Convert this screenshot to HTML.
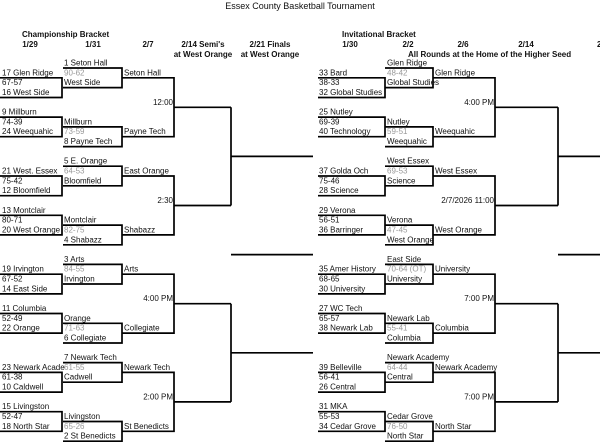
<!DOCTYPE html>
<html><head><meta charset="utf-8"><style>
html,body{margin:0;padding:0;background:#fff;width:600px;height:442px;overflow:hidden}
svg{display:block}
text{font-family:"Liberation Sans",sans-serif;font-size:8px;fill:#111}
.b{font-weight:bold}
.g{fill:#999}
.e{text-anchor:end}
.m{text-anchor:middle}
path{fill:none;stroke:#000;stroke-width:1.7}
</style></head><body>
<svg width="600" height="442" viewBox="0 0 600 442">
<text x="300" y="9" class="m" style="font-size:9px">Essex County Basketball Tournament</text>
<text x="22" y="37" class="b">Championship Bracket</text>
<text x="30" y="47" class="b m">1/29</text>
<text x="93" y="47" class="b m">1/31</text>
<text x="148" y="47" class="b m">2/7</text>
<text x="203" y="47" class="b m">2/14 Semi's</text>
<text x="270" y="47" class="b m">2/21 Finals</text>
<text x="203" y="57" class="b m">at West Orange</text>
<text x="270" y="57" class="b m">at West Orange</text>
<text x="342" y="37" class="b">Invitational Bracket</text>
<text x="350" y="47" class="b m">1/30</text>
<text x="408" y="47" class="b m">2/2</text>
<text x="463" y="47" class="b m">2/6</text>
<text x="526" y="47" class="b m">2/14</text>
<text x="597" y="47" class="b">2/21</text>
<text x="408" y="57" class="b">All Rounds at the Home of the Higher Seed</text>

<path d="M231 107.3V205.5M231 303.7V401.9M231 156.4H313M231 254.6H313M231 352.8H313"/>
<path d="M558 107.3V205.5M558 303.7V401.9M558 156.4H600M558 254.6H600M558 352.8H600"/>

<defs>
<path id="L" d="M0 77.8H62V97.5H0M63 68H122V87.6H63M122 77.8H174V136.7H122M0 117.1H62V136.7H0M63 126.9H122V146.6H63M174 107.3H231"/>
<path id="R" d="M318 77.8H385V97.5H318M385 68H433V87.6H385M433 77.8H495V136.7H433M318 117.1H385V136.7H318M385 126.9H433V146.6H385M495 107.3H558"/>
</defs>

<g>
<use href="#L"/><use href="#R"/>
<text x="64" y="65.5">1 Seton Hall</text>
<text x="2" y="75.3">17 Glen Ridge</text><text x="64" y="75.3" class="g">90-62</text><text x="124" y="75.3">Seton Hall</text>
<text x="2" y="85.1">67-57</text><text x="64" y="85.1">West Side</text>
<text x="2" y="95">16 West Side</text>
<text x="173" y="104.8" class="e">12:00</text>
<text x="2" y="114.6">9 Millburn</text>
<text x="2" y="124.4">74-39</text><text x="64" y="124.4">Millburn</text>
<text x="2" y="134.2">24 Weequahic</text><text x="64" y="134.2" class="g">73-59</text><text x="124" y="134.2">Payne Tech</text>
<text x="64" y="144.1">8 Payne Tech</text>
<text x="387" y="65.5">Glen Ridge</text>
<text x="319" y="75.3">33 Bard</text><text x="387" y="75.3" class="g">48-42</text><text x="435" y="75.3">Glen Ridge</text>
<text x="319" y="85.1">38-33</text><text x="387" y="85.1">Global Studies</text>
<text x="319" y="95">32 Global Studies</text>
<text x="494" y="104.8" class="e">4:00 PM</text>
<text x="319" y="114.6">25 Nutley</text>
<text x="319" y="124.4">69-39</text><text x="387" y="124.4">Nutley</text>
<text x="319" y="134.2">40 Technology</text><text x="387" y="134.2" class="g">59-51</text><text x="435" y="134.2">Weequahic</text>
<text x="387" y="144.1">Weequahic</text>
</g>

<g transform="translate(0,98.2)">
<use href="#L"/><use href="#R"/>
<text x="64" y="65.5">5 E. Orange</text>
<text x="2" y="75.3">21 West. Essex</text><text x="64" y="75.3" class="g">64-53</text><text x="124" y="75.3">East Orange</text>
<text x="2" y="85.1">75-42</text><text x="64" y="85.1">Bloomfield</text>
<text x="2" y="95">12 Bloomfield</text>
<text x="173" y="104.8" class="e">2:30</text>
<text x="2" y="114.6">13 Montclair</text>
<text x="2" y="124.4">80-71</text><text x="64" y="124.4">Montclair</text>
<text x="2" y="134.2">20 West Orange</text><text x="64" y="134.2" class="g">82-75</text><text x="124" y="134.2">Shabazz</text>
<text x="64" y="144.1">4 Shabazz</text>
<text x="387" y="65.5">West Essex</text>
<text x="319" y="75.3">37 Golda Och</text><text x="387" y="75.3" class="g">69-53</text><text x="435" y="75.3">West Essex</text>
<text x="319" y="85.1">75-46</text><text x="387" y="85.1">Science</text>
<text x="319" y="95">28 Science</text>
<text x="494" y="104.8" class="e">2/7/2026 11:00</text>
<text x="319" y="114.6">29 Verona</text>
<text x="319" y="124.4">56-51</text><text x="387" y="124.4">Verona</text>
<text x="319" y="134.2">36 Barringer</text><text x="387" y="134.2" class="g">47-45</text><text x="435" y="134.2">West Orange</text>
<text x="387" y="144.1">West Orange</text>
</g>

<g transform="translate(0,196.4)">
<use href="#L"/><use href="#R"/>
<text x="64" y="65.5">3 Arts</text>
<text x="2" y="75.3">19 Irvington</text><text x="64" y="75.3" class="g">84-55</text><text x="124" y="75.3">Arts</text>
<text x="2" y="85.1">67-52</text><text x="64" y="85.1">Irvington</text>
<text x="2" y="95">14 East Side</text>
<text x="173" y="104.8" class="e">4:00 PM</text>
<text x="2" y="114.6">11 Columbia</text>
<text x="2" y="124.4">52-49</text><text x="64" y="124.4">Orange</text>
<text x="2" y="134.2">22 Orange</text><text x="64" y="134.2" class="g">71-63</text><text x="124" y="134.2">Collegiate</text>
<text x="64" y="144.1">6 Collegiate</text>
<text x="387" y="65.5">East Side</text>
<text x="319" y="75.3">35 Amer History</text><text x="387" y="75.3" class="g">70-64 (OT)</text><text x="435" y="75.3">University</text>
<text x="319" y="85.1">68-65</text><text x="387" y="85.1">University</text>
<text x="319" y="95">30 University</text>
<text x="494" y="104.8" class="e">7:00 PM</text>
<text x="319" y="114.6">27 WC Tech</text>
<text x="319" y="124.4">65-57</text><text x="387" y="124.4">Newark Lab</text>
<text x="319" y="134.2">38 Newark Lab</text><text x="387" y="134.2" class="g">55-41</text><text x="435" y="134.2">Columbia</text>
<text x="387" y="144.1">Columbia</text>
</g>

<g transform="translate(0,294.6)">
<use href="#L"/><use href="#R"/>
<text x="64" y="65.5">7 Newark Tech</text>
<text x="2" y="75.3">23 Newark Acade</text><text x="64" y="75.3" class="g">61-55</text><text x="124" y="75.3">Newark Tech</text>
<text x="2" y="85.1">61-38</text><text x="64" y="85.1">Cadwell</text>
<text x="2" y="95">10 Caldwell</text>
<text x="173" y="104.8" class="e">2:00 PM</text>
<text x="2" y="114.6">15 Livingston</text>
<text x="2" y="124.4">52-47</text><text x="64" y="124.4">Livingston</text>
<text x="2" y="134.2">18 North Star</text><text x="64" y="134.2" class="g">65-26</text><text x="124" y="134.2">St Benedicts</text>
<text x="64" y="144.1">2 St Benedicts</text>
<text x="387" y="65.5">Newark Academy</text>
<text x="319" y="75.3">39 Belleville</text><text x="387" y="75.3" class="g">64-44</text><text x="435" y="75.3">Newark Academy</text>
<text x="319" y="85.1">56-41</text><text x="387" y="85.1">Central</text>
<text x="319" y="95">26 Central</text>
<text x="494" y="104.8" class="e">7:00 PM</text>
<text x="319" y="114.6">31 MKA</text>
<text x="319" y="124.4">55-53</text><text x="387" y="124.4">Cedar Grove</text>
<text x="319" y="134.2">34 Cedar Grove</text><text x="387" y="134.2" class="g">76-50</text><text x="435" y="134.2">North Star</text>
<text x="387" y="144.1">North Star</text>
</g>
</svg>
</body></html>
